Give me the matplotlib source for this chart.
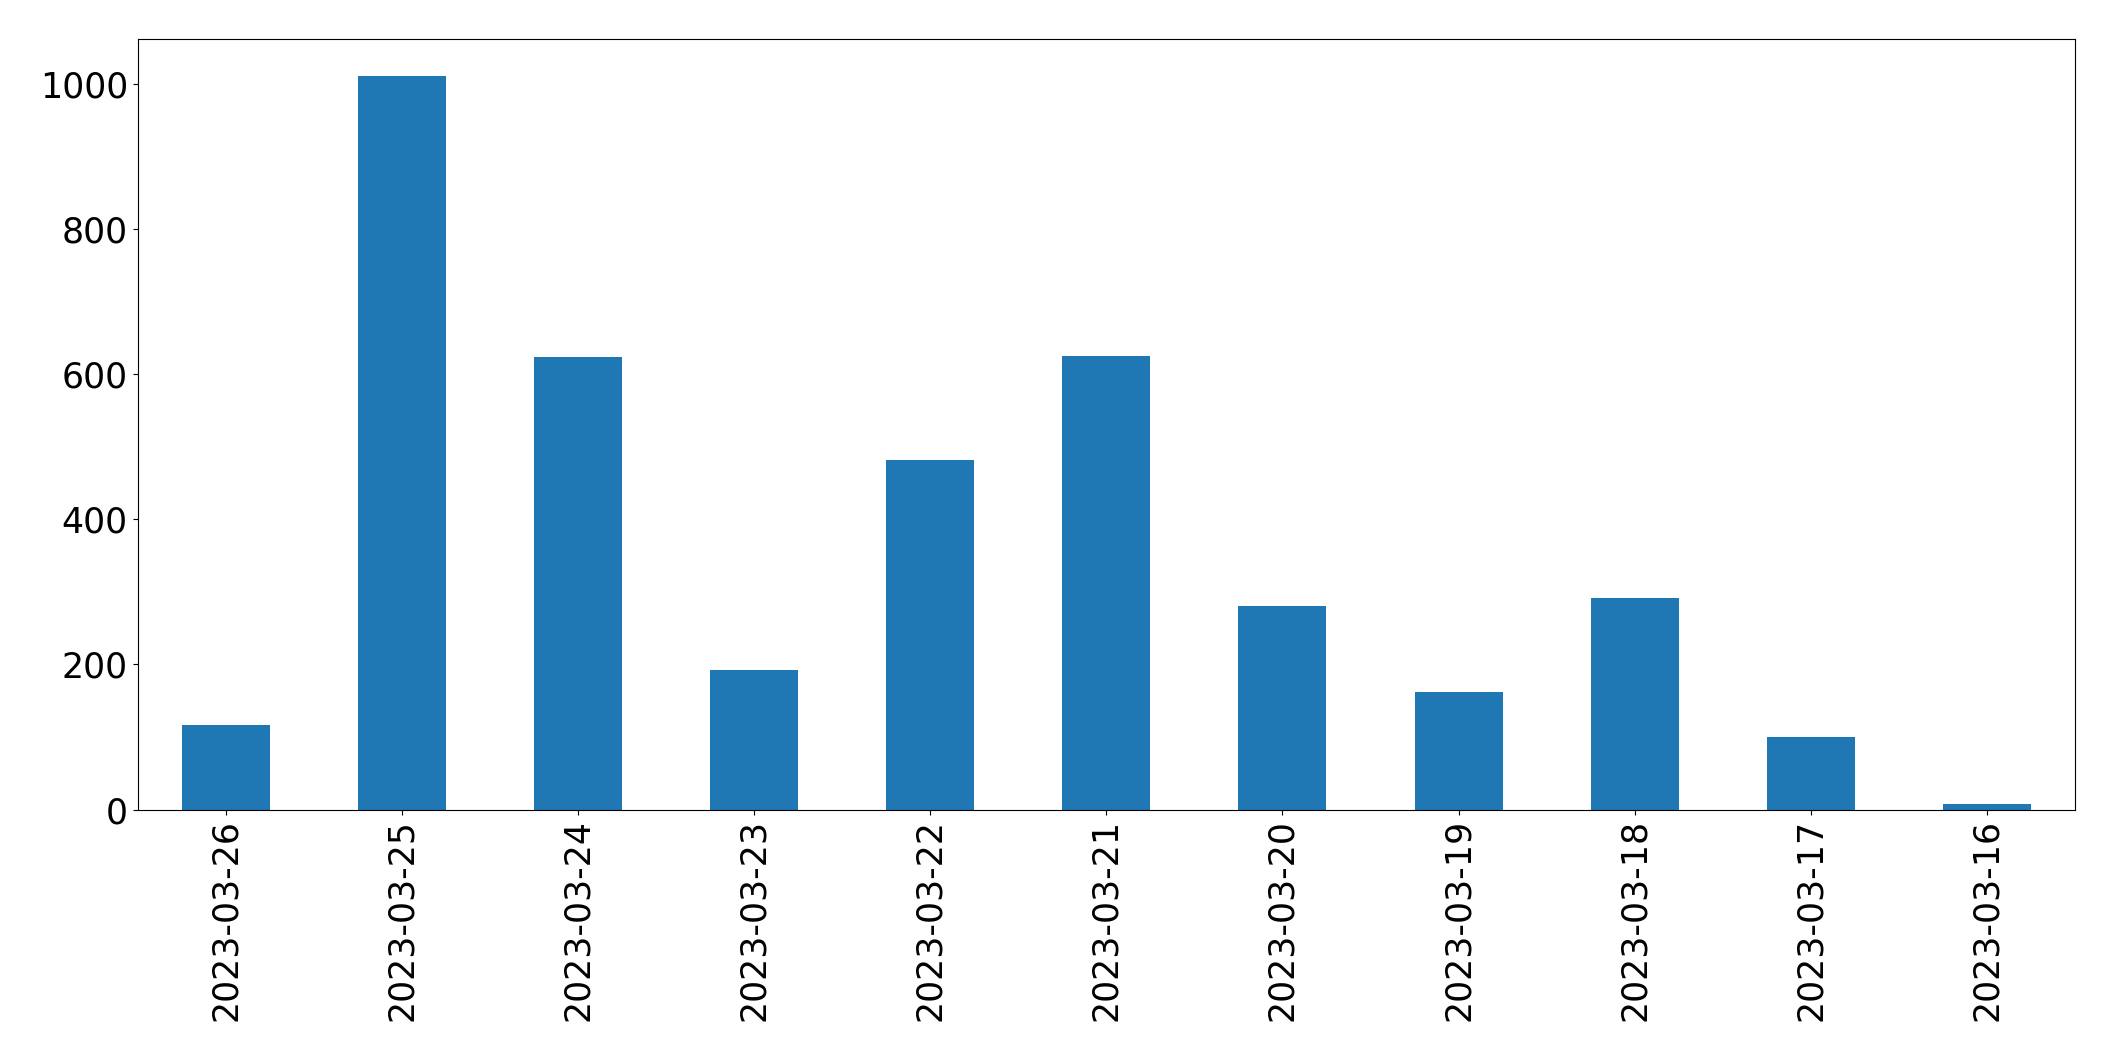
import matplotlib
matplotlib.use("Agg")
import matplotlib.pyplot as plt

dates = ["2023-03-26", "2023-03-25", "2023-03-24", "2023-03-23", "2023-03-22",
         "2023-03-21", "2023-03-20", "2023-03-19", "2023-03-18", "2023-03-17",
         "2023-03-16"]
counts = [117, 1010, 623, 192, 482, 625, 281, 162, 291, 100, 7]

fig = plt.figure(figsize=(21.15, 10.61), dpi=100)
ax = fig.add_axes([137.6 / 2115, 1 - 809.5 / 1061, (2075 - 137.6) / 2115, (809.5 - 39) / 1061])
x = list(range(len(dates)))
ax.bar(x, counts, width=0.5, color="#1f77b4")
ax.set_xlim(-0.5, len(dates) - 0.5)
ax.set_ylim(0, 1061.5)
ax.set_xticks(x)
ax.set_xticklabels(dates, rotation=90)
ax.set_yticks([0, 200, 400, 600, 800, 1000])
ax.tick_params(labelsize=25)
fig.savefig("out.png", dpi=100)
